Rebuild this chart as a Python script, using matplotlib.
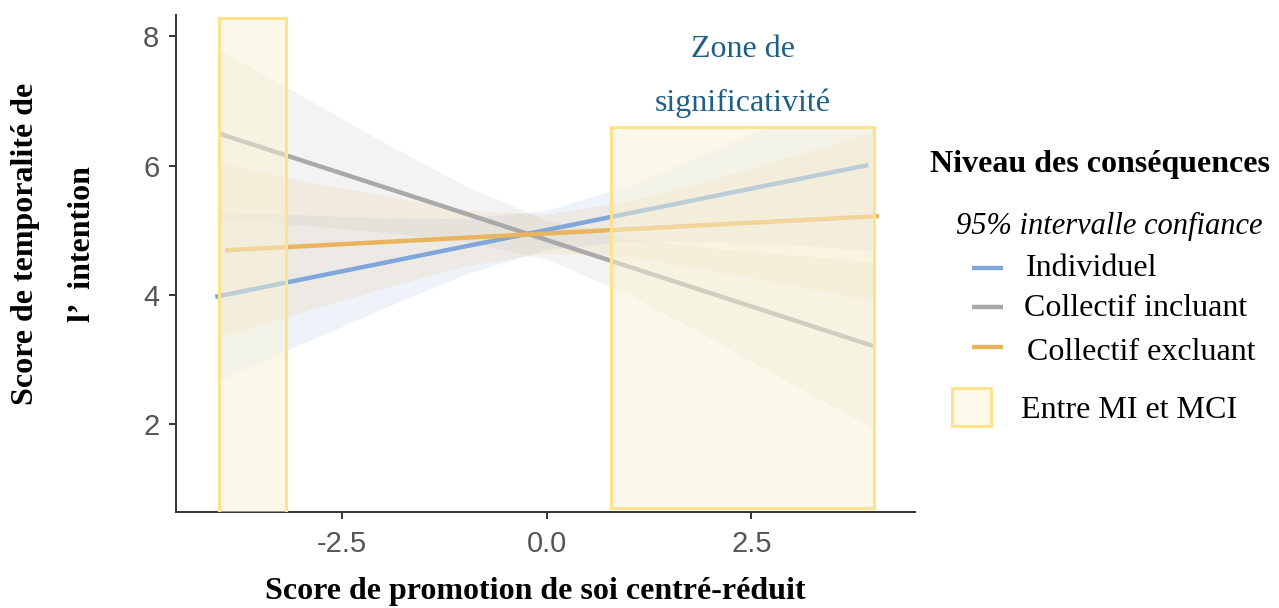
import matplotlib
matplotlib.use("Agg")
import matplotlib.pyplot as plt
from matplotlib.patches import Rectangle
from matplotlib.lines import Line2D

# ---------------- data ----------------
series_names = ["Individuel", "Collectif incluant", "Collectif excluant"]
series_colors = ["#7FA7DB", "#A9A9A9", "#E8B55E"]

# fitted regression lines (start / end)
line_x = {
    "Individuel": [-4.05, 3.93],
    "Collectif incluant": [-3.99, 3.99],
    "Collectif excluant": [-3.93, 4.06],
}
line_y = {
    "Individuel": [3.97, 6.01],
    "Collectif incluant": [6.49, 3.21],
    "Collectif excluant": [4.69, 5.22],
}

# 95% confidence bands
band_x = [-4.0, -3.0, -2.0, -1.0, 0.0, 1.0, 2.0, 3.0, 4.0]
band_low = {
    "Individuel":         [2.68, 3.24, 3.79, 4.32, 4.71, 4.83, 4.82, 4.78, 4.68],
    "Collectif incluant": [5.19, 5.08, 4.97, 4.83, 4.55, 4.01, 3.33, 2.62, 1.92],
    "Collectif excluant": [3.35, 3.73, 4.10, 4.45, 4.65, 4.59, 4.38, 4.15, 3.90],
}
band_high = {
    "Individuel":         [5.28, 5.24, 5.19, 5.18, 5.31, 5.69, 6.22, 6.78, 7.33],
    "Collectif incluant": [7.79, 7.08, 6.37, 5.69, 5.15, 4.87, 4.73, 4.62, 4.50],
    "Collectif excluant": [6.05, 5.77, 5.54, 5.31, 5.25, 5.45, 5.78, 6.15, 6.52],
}

# regions "Entre MI et MCI"
region_x0 = [-4.01, 0.79]
region_x1 = [-3.18, 4.00]
region_y0 = [0.60, 0.70]
region_y1 = [8.29, 6.59]

x_ticks = [-2.5, 0.0, 2.5]
x_ticklabels = ["-2.5", "0.0", "2.5"]
y_ticks = [2, 4, 6, 8]
y_ticklabels = ["2", "4", "6", "8"]

# ---------------- figure ----------------
W, H = 1279, 608
fig = plt.figure(figsize=(W / 100, H / 100), dpi=100)
ax = fig.add_axes([176 / W, 1 - 511.5 / H, (915 - 176) / W, (511.5 - 15) / H])

serif = "Liberation Serif"
sans = "Liberation Sans"

for name, col in zip(series_names, series_colors):
    ax.fill_between(band_x, band_low[name], band_high[name], color=col,
                    alpha=0.13, linewidth=0, zorder=1)
for name, col in zip(series_names, series_colors):
    ax.plot(line_x[name], line_y[name], color=col, lw=3.2,
            solid_capstyle="butt", zorder=2)

# white box behind annotation (covers bands above the right zone)
wbox = Rectangle((region_x0[1], region_y1[1]), region_x1[1] - region_x0[1] + 0.3,
                 2.0, facecolor="white", edgecolor="none", zorder=3)
ax.add_patch(wbox)
clip_rect = Rectangle((region_x0[1] - 0.5, region_y1[1]), 5, 3,
                      transform=ax.transData, facecolor="none", edgecolor="none")
ax.add_patch(clip_rect)
zc = (region_x0[1] + region_x1[1]) / 2
t1 = ax.text(zc, 8 - (49 - 36) / 64.7, "Zone de", ha="center", va="center",
             fontsize=23, family=serif, color="#1F5F86", zorder=4)
t2 = ax.text(zc, 8 - (103 - 36) / 64.7, "significativité", ha="center",
             va="center", fontsize=23, family=serif, color="#1F5F86", zorder=4)
t2.set_clip_path(clip_rect)

for x0, x1, y0, y1 in zip(region_x0, region_x1, region_y0, region_y1):
    ax.add_patch(Rectangle((x0, y0), x1 - x0, y1 - y0,
                           facecolor=(0.976, 0.953, 0.835, 0.5),
                           edgecolor="#FDE38D", lw=2.2, zorder=5))

ax.set_xlim(-4.53, 4.50)
ax.set_ylim(0.65, 8.33)
ax.set_xticks(x_ticks)
ax.set_xticklabels(x_ticklabels)
ax.set_yticks(y_ticks)
ax.set_yticklabels(y_ticklabels)
for s in ["top", "right"]:
    ax.spines[s].set_visible(False)
for s in ["left", "bottom"]:
    ax.spines[s].set_color("#333333")
    ax.spines[s].set_linewidth(1.4)
ax.tick_params(axis="both", length=5, width=1.4, color="#333333",
               labelcolor="#555555", labelsize=21)
ax.tick_params(axis="x", pad=8)
ax.tick_params(axis="y", pad=7)
for lab in ax.get_xticklabels() + ax.get_yticklabels():
    lab.set_family(sans)

# axis titles
fig.text(535 / W, 1 - 591 / H, "Score de promotion de soi centré-réduit",
         ha="center", va="center", fontsize=23, family=serif, weight="bold")
fig.text(26 / W, 1 - 244 / H, "Score de temporalité de", rotation=90,
         ha="center", va="center", fontsize=23, family=serif, weight="bold")
fig.text(83 / W, 1 - 244 / H, "l’  intention", rotation=90,
         ha="center", va="center", fontsize=23, family=serif, weight="bold")

# legend (manual)
fig.text(930 / W, 1 - 165 / H, "Niveau des conséquences", ha="left",
         va="center", fontsize=23, family=serif, weight="bold")
fig.text(956 / W, 1 - 226 / H, "95% intervalle confiance", ha="left",
         va="center", fontsize=22, family=serif, style="italic")
leg_text_y = [268, 309, 353]
leg_line_y = [268, 307, 347]
leg_text_x = [1026, 1024, 1027]
for name, col, ty, ly, tx in zip(series_names, series_colors, leg_text_y,
                                 leg_line_y, leg_text_x):
    fig.add_artist(Line2D([972 / W, 1003 / W], [1 - ly / H, 1 - ly / H],
                          color=col, lw=3.2, solid_capstyle="butt",
                          transform=fig.transFigure))
    fig.text(tx / W, 1 - ty / H, name, ha="left", va="center", fontsize=23,
             family=serif)
fig.add_artist(Rectangle((952 / W, 1 - 426 / H), 39 / W, 38 / H,
                         facecolor="#FCF9EA", edgecolor="#FDE38D", lw=2.2,
                         transform=fig.transFigure))
fig.text(1021 / W, 1 - 410 / H, "Entre MI et MCI", ha="left", va="center",
         fontsize=23, family=serif)

fig.savefig("out.png", dpi=100)
